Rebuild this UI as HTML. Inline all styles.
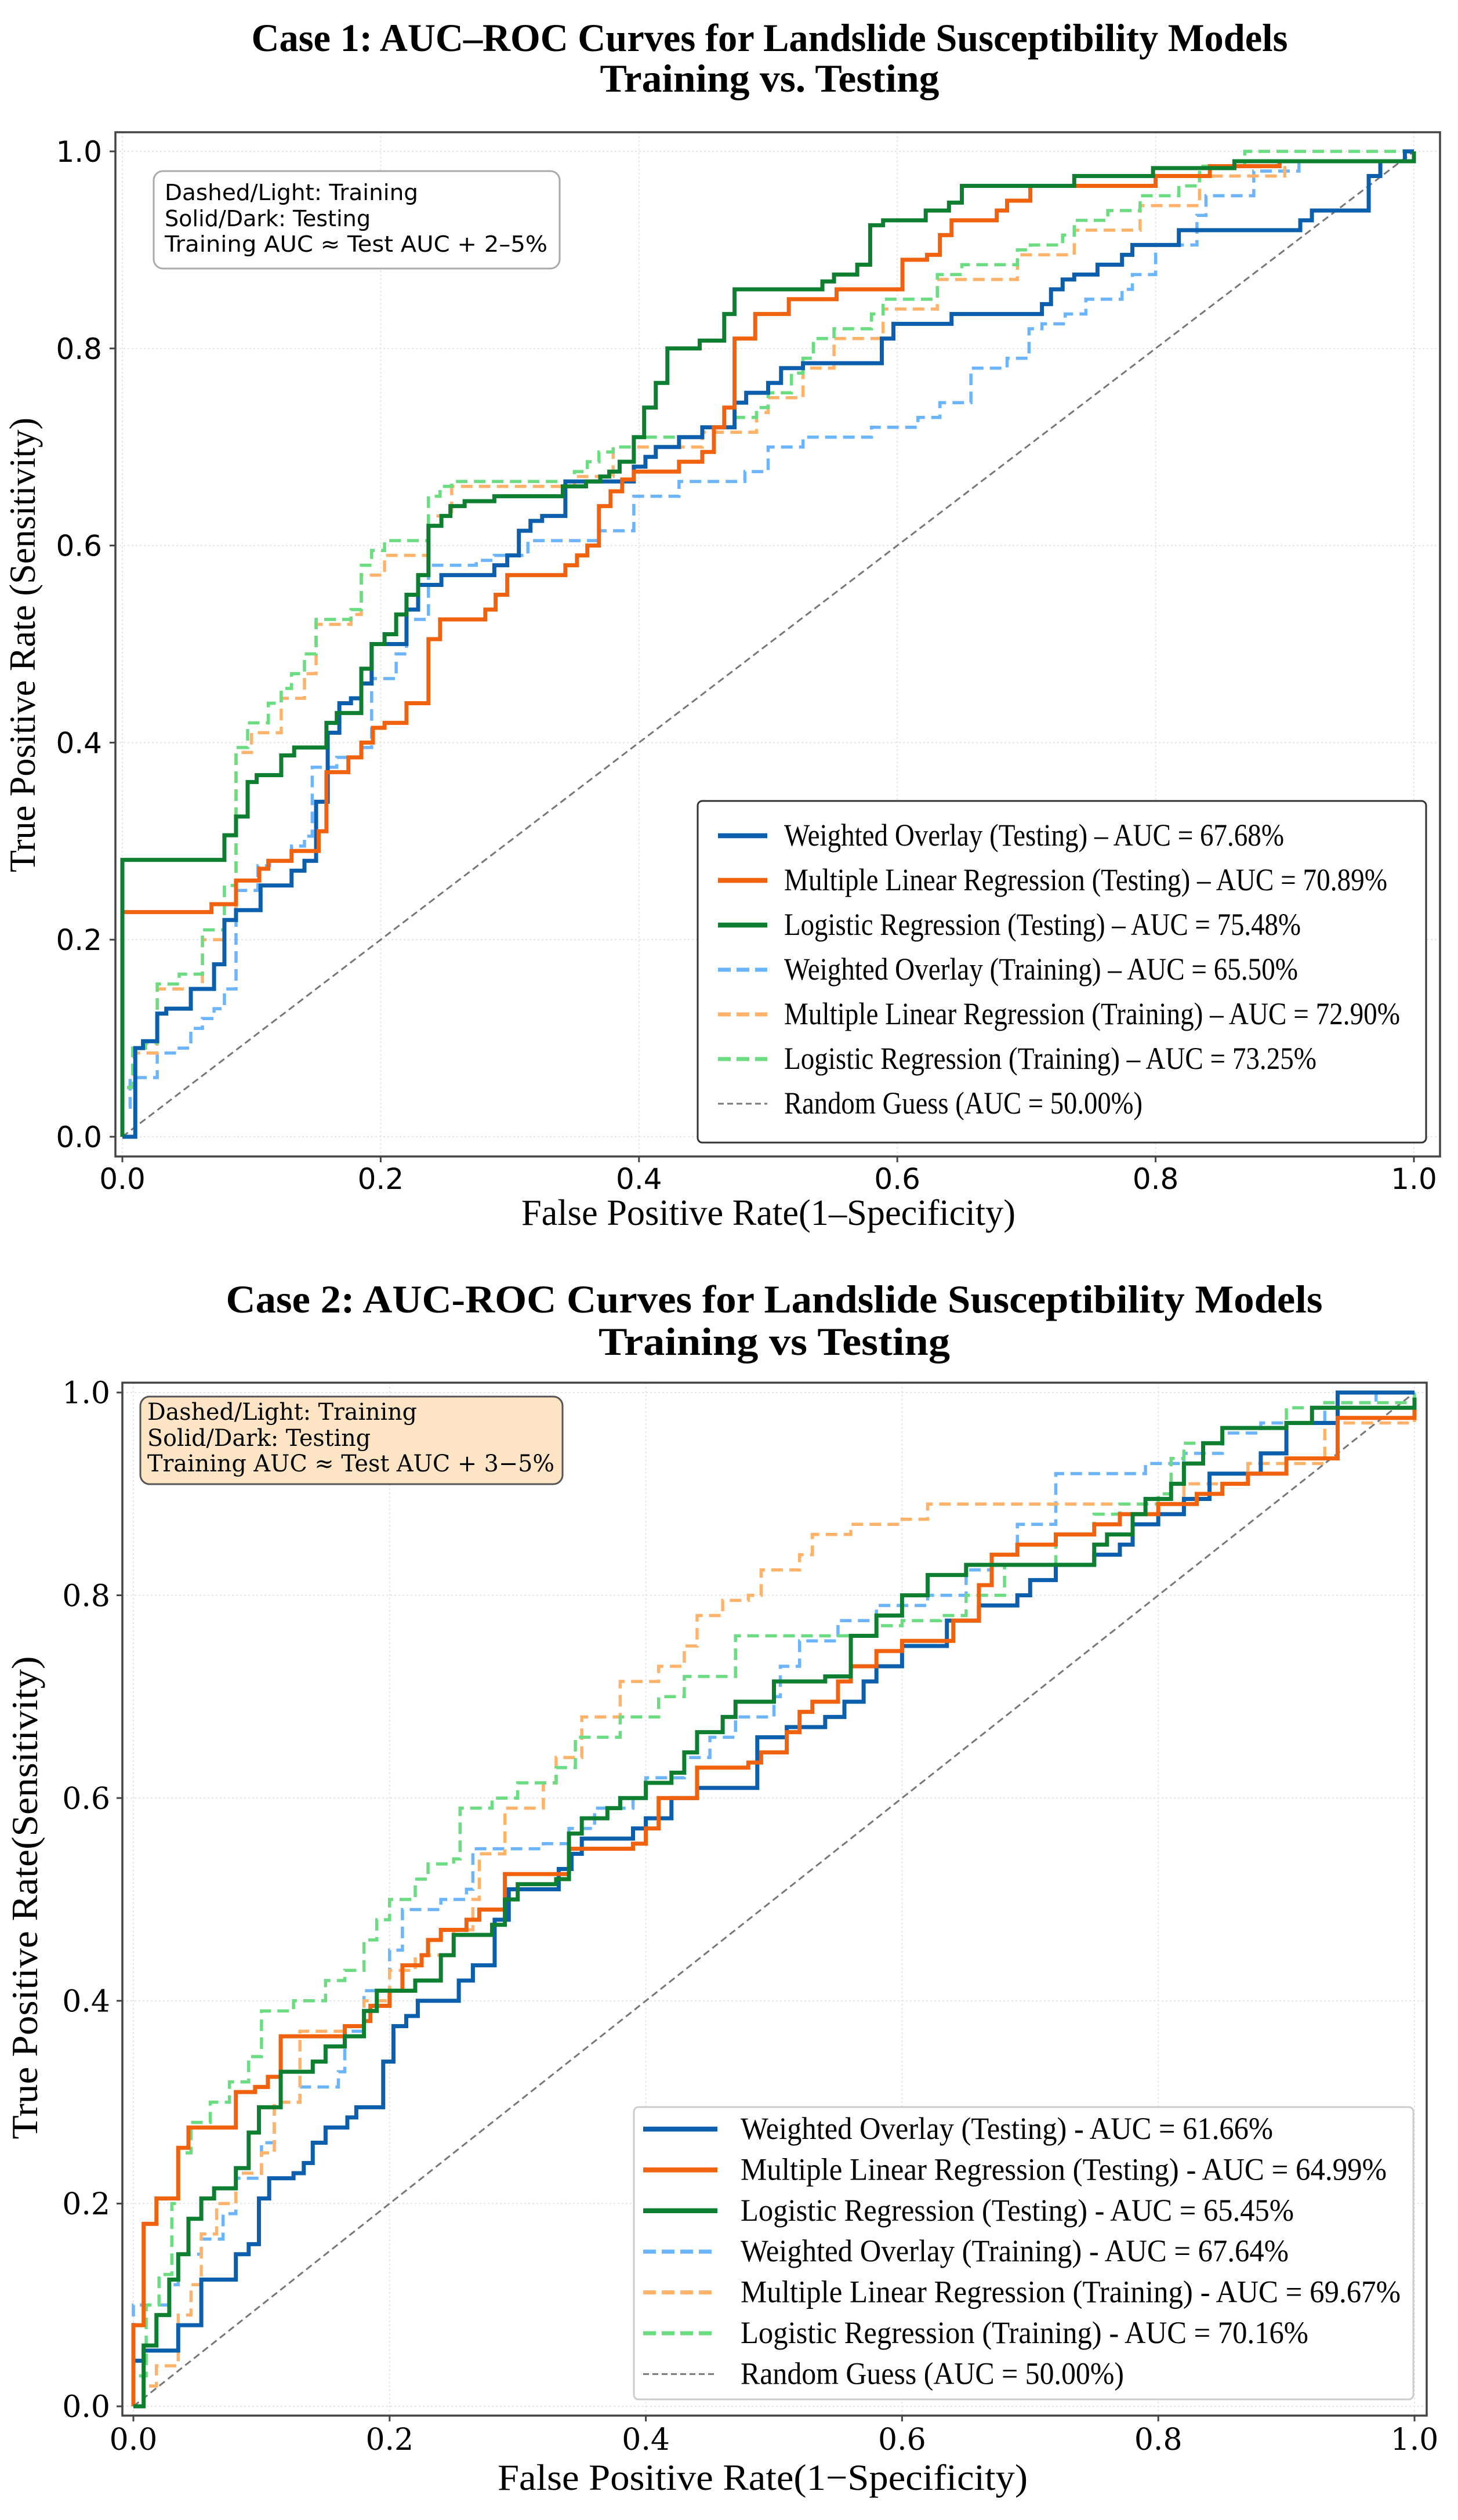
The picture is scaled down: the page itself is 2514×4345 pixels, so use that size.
<!DOCTYPE html>
<html><head><meta charset="utf-8">
<style>
html,body{margin:0;padding:0;background:#fff;}
svg{display:block;}
</style></head>
<body>
<svg id="root" width="2514" height="4345" viewBox="0 0 2514 4345" xmlns="http://www.w3.org/2000/svg">
<rect x="0" y="0" width="2514" height="4345" fill="#fff"/>
<g id="c1"></g>
<g id="c2"></g>
</svg>
<script>
// ---------- Case 1 data ----------
const c1WoTestX=[0,0.01,0.01,0.016,0.027,0.034,0.053,0.071,0.079,0.088,0.107,0.131,0.141,0.15,0.159,0.168,0.177,0.185,0.193,0.22,0.229,0.247,0.288,0.298,0.307,0.316,0.325,0.343,0.396,0.405,0.413,0.431,0.449,0.474,0.483,0.5,0.51,0.527,0.588,0.597,0.642,0.712,0.719,0.728,0.737,0.755,0.774,0.782,0.818,0.912,0.921,0.965,0.974,0.993,1];
const c1WoTestY=[0,0,0.09,0.097,0.125,0.13,0.15,0.175,0.22,0.23,0.255,0.27,0.28,0.34,0.41,0.44,0.445,0.46,0.5,0.535,0.56,0.57,0.58,0.59,0.615,0.625,0.63,0.665,0.68,0.69,0.7,0.71,0.72,0.745,0.755,0.765,0.78,0.785,0.81,0.825,0.835,0.845,0.86,0.87,0.875,0.885,0.895,0.905,0.92,0.93,0.94,0.975,0.99,1,1];
const c1MlrTestX=[0,0,0.069,0.088,0.106,0.113,0.131,0.152,0.158,0.175,0.185,0.194,0.203,0.22,0.237,0.246,0.281,0.289,0.298,0.343,0.352,0.36,0.369,0.378,0.387,0.396,0.431,0.449,0.458,0.466,0.474,0.49,0.516,0.553,0.604,0.623,0.633,0.642,0.677,0.685,0.703,0.8,0.842,0.896,1];
const c1MlrTestY=[0,0.228,0.236,0.26,0.272,0.28,0.29,0.31,0.37,0.385,0.4,0.415,0.42,0.44,0.505,0.525,0.535,0.55,0.57,0.58,0.59,0.6,0.64,0.655,0.667,0.675,0.685,0.695,0.72,0.74,0.81,0.835,0.85,0.86,0.89,0.895,0.915,0.93,0.94,0.95,0.965,0.975,0.985,0.99,1];
const c1LrTestX=[0,0,0.079,0.088,0.097,0.104,0.123,0.133,0.158,0.166,0.185,0.193,0.203,0.212,0.22,0.229,0.237,0.247,0.254,0.265,0.288,0.341,0.359,0.37,0.377,0.385,0.396,0.404,0.413,0.422,0.447,0.466,0.474,0.542,0.551,0.569,0.579,0.589,0.622,0.64,0.65,0.737,0.798,0.861,1];
const c1LrTestY=[0,0.281,0.306,0.325,0.36,0.367,0.387,0.395,0.42,0.43,0.475,0.5,0.51,0.53,0.55,0.57,0.62,0.63,0.64,0.645,0.65,0.66,0.665,0.67,0.675,0.685,0.71,0.74,0.765,0.8,0.808,0.835,0.86,0.868,0.875,0.885,0.925,0.93,0.94,0.948,0.965,0.975,0.983,0.99,1];
const c1WoTrainX=[0,0,0.006,0.027,0.044,0.053,0.062,0.071,0.079,0.088,0.105,0.114,0.131,0.141,0.147,0.166,0.185,0.193,0.212,0.22,0.237,0.274,0.288,0.314,0.369,0.396,0.431,0.482,0.5,0.527,0.58,0.616,0.633,0.657,0.685,0.702,0.712,0.73,0.746,0.774,0.782,0.8,0.832,0.839,0.876,0.911,1];
const c1WoTrainY=[0,0.03,0.06,0.085,0.09,0.11,0.12,0.13,0.15,0.25,0.275,0.28,0.295,0.305,0.375,0.385,0.395,0.465,0.49,0.525,0.58,0.585,0.59,0.605,0.615,0.65,0.665,0.675,0.7,0.71,0.72,0.73,0.745,0.78,0.79,0.82,0.825,0.835,0.85,0.86,0.875,0.905,0.935,0.955,0.98,0.99,1];
const c1MlrTrainX=[0,0,0.009,0.027,0.027,0.062,0.079,0.088,0.1,0.123,0.141,0.15,0.177,0.185,0.203,0.237,0.255,0.35,0.38,0.449,0.491,0.5,0.527,0.551,0.589,0.631,0.693,0.737,0.788,0.834,0.9,1];
const c1MlrTrainY=[0,0.05,0.085,0.09,0.15,0.2,0.22,0.39,0.41,0.445,0.47,0.52,0.53,0.57,0.59,0.63,0.66,0.67,0.7,0.715,0.735,0.75,0.78,0.81,0.84,0.87,0.895,0.92,0.945,0.975,0.99,1];
const c1LrTrainX=[0,0,0.008,0.018,0.027,0.044,0.062,0.079,0.088,0.097,0.113,0.123,0.131,0.141,0.15,0.177,0.185,0.193,0.203,0.237,0.246,0.255,0.35,0.36,0.369,0.38,0.396,0.449,0.474,0.491,0.5,0.518,0.527,0.535,0.551,0.58,0.589,0.631,0.65,0.693,0.703,0.728,0.737,0.763,0.788,0.818,0.834,0.869,1];
const c1LrTrainY=[0,0.05,0.09,0.095,0.155,0.165,0.21,0.255,0.395,0.42,0.44,0.455,0.47,0.49,0.525,0.535,0.58,0.595,0.605,0.65,0.66,0.665,0.675,0.685,0.695,0.7,0.71,0.72,0.73,0.74,0.755,0.775,0.79,0.81,0.82,0.835,0.85,0.875,0.885,0.9,0.905,0.915,0.93,0.94,0.955,0.965,0.985,1,1];
// ---------- Case 2 data ----------
const c2WoTestX=[0,0,0.008,0.035,0.035,0.053,0.053,0.08,0.08,0.09,0.098,0.098,0.106,0.125,0.133,0.14,0.15,0.167,0.174,0.195,0.195,0.203,0.213,0.222,0.254,0.254,0.265,0.282,0.282,0.293,0.332,0.332,0.342,0.35,0.39,0.4,0.42,0.42,0.44,0.487,0.487,0.51,0.54,0.555,0.57,0.58,0.6,0.635,0.635,0.66,0.69,0.7,0.72,0.75,0.77,0.78,0.8,0.82,0.84,0.88,0.9,0.94,0.94,1];
const c2WoTestY=[0,0.045,0.055,0.055,0.08,0.08,0.125,0.125,0.15,0.16,0.16,0.205,0.225,0.23,0.24,0.26,0.275,0.285,0.295,0.295,0.34,0.375,0.385,0.4,0.4,0.42,0.435,0.435,0.48,0.51,0.51,0.53,0.545,0.56,0.57,0.58,0.58,0.6,0.61,0.61,0.66,0.67,0.68,0.695,0.715,0.73,0.75,0.76,0.775,0.79,0.8,0.815,0.83,0.84,0.85,0.87,0.88,0.895,0.92,0.94,0.97,0.99,1,1];
const c2MlrTestX=[0,0,0.008,0.018,0.018,0.035,0.035,0.043,0.08,0.08,0.095,0.105,0.115,0.115,0.165,0.165,0.18,0.185,0.2,0.21,0.225,0.23,0.24,0.26,0.27,0.29,0.29,0.33,0.34,0.39,0.4,0.41,0.44,0.44,0.48,0.49,0.51,0.51,0.52,0.53,0.55,0.56,0.58,0.6,0.64,0.66,0.67,0.69,0.72,0.75,0.77,0.8,0.83,0.85,0.87,0.9,0.94,1];
const c2MlrTestY=[0,0.08,0.18,0.18,0.205,0.205,0.255,0.275,0.275,0.31,0.315,0.325,0.33,0.365,0.365,0.375,0.38,0.395,0.41,0.435,0.445,0.46,0.47,0.48,0.49,0.49,0.525,0.525,0.55,0.555,0.57,0.6,0.6,0.63,0.635,0.645,0.645,0.665,0.685,0.695,0.715,0.73,0.745,0.755,0.775,0.81,0.84,0.85,0.86,0.87,0.88,0.89,0.9,0.91,0.92,0.935,0.975,0.985];
const c2LrTestX=[0,0.008,0.018,0.028,0.035,0.043,0.053,0.063,0.08,0.09,0.098,0.115,0.14,0.15,0.165,0.18,0.19,0.22,0.24,0.25,0.28,0.29,0.3,0.33,0.34,0.35,0.37,0.38,0.4,0.42,0.43,0.44,0.46,0.47,0.5,0.54,0.56,0.58,0.6,0.62,0.65,0.74,0.75,0.76,0.78,0.79,0.81,0.82,0.835,0.85,0.9,0.92,1];
const c2LrTestY=[0,0.06,0.09,0.125,0.15,0.185,0.205,0.215,0.235,0.27,0.295,0.33,0.34,0.355,0.365,0.39,0.41,0.42,0.445,0.465,0.475,0.5,0.515,0.52,0.565,0.58,0.59,0.6,0.615,0.625,0.645,0.665,0.68,0.695,0.715,0.72,0.76,0.78,0.8,0.82,0.83,0.83,0.85,0.86,0.88,0.895,0.91,0.93,0.95,0.965,0.97,0.985,0.995];
const c2WoTrainX=[0,0,0.018,0.028,0.035,0.053,0.07,0.08,0.1,0.11,0.13,0.16,0.165,0.18,0.2,0.21,0.24,0.26,0.265,0.32,0.34,0.36,0.39,0.4,0.43,0.45,0.47,0.5,0.505,0.52,0.55,0.58,0.62,0.65,0.67,0.69,0.72,0.72,0.76,0.79,0.82,0.85,0.88,0.93,0.97,1];
const c2WoTrainY=[0,0.1,0.1,0.12,0.15,0.165,0.19,0.225,0.26,0.3,0.315,0.33,0.37,0.41,0.45,0.49,0.5,0.51,0.55,0.555,0.57,0.59,0.6,0.62,0.64,0.66,0.68,0.7,0.73,0.755,0.775,0.79,0.8,0.825,0.84,0.87,0.89,0.92,0.92,0.93,0.94,0.96,0.97,0.99,1,1];
const c2MlrTrainX=[0,0.008,0.018,0.035,0.035,0.045,0.053,0.065,0.08,0.1,0.11,0.13,0.165,0.18,0.2,0.22,0.25,0.265,0.27,0.29,0.29,0.32,0.33,0.35,0.38,0.38,0.41,0.43,0.44,0.46,0.48,0.49,0.52,0.53,0.56,0.6,0.62,0.8,0.82,0.87,0.93,1];
const c2MlrTrainY=[0,0.02,0.04,0.055,0.09,0.12,0.17,0.2,0.23,0.25,0.3,0.37,0.375,0.4,0.43,0.445,0.47,0.5,0.545,0.555,0.59,0.615,0.64,0.68,0.69,0.715,0.73,0.75,0.78,0.795,0.8,0.825,0.84,0.86,0.87,0.875,0.89,0.89,0.91,0.93,0.97,0.98];
const c2LrTrainX=[0,0,0.01,0.02,0.03,0.035,0.045,0.06,0.075,0.09,0.1,0.125,0.15,0.165,0.18,0.19,0.2,0.22,0.23,0.25,0.255,0.28,0.3,0.33,0.345,0.38,0.41,0.43,0.47,0.47,0.56,0.58,0.6,0.63,0.65,0.68,0.72,0.75,0.77,0.8,0.81,0.82,0.85,0.9,0.93,1];
const c2LrTrainY=[0,0.03,0.1,0.13,0.2,0.25,0.28,0.3,0.32,0.345,0.39,0.4,0.42,0.43,0.46,0.48,0.5,0.52,0.535,0.54,0.59,0.6,0.615,0.63,0.66,0.68,0.7,0.72,0.73,0.76,0.76,0.77,0.775,0.78,0.8,0.83,0.86,0.88,0.89,0.9,0.935,0.95,0.965,0.985,0.99,1];
const tickVals=[0,0.2,0.4,0.6,0.8,1.0];
const tickLabels=["0.0","0.2","0.4","0.6","0.8","1.0"];
const legend1Labels=["Weighted Overlay (Testing) – AUC = 67.68%","Multiple Linear Regression (Testing) – AUC = 70.89%","Logistic Regression (Testing) – AUC = 75.48%","Weighted Overlay (Training) – AUC = 65.50%","Multiple Linear Regression (Training) – AUC = 72.90%","Logistic Regression (Training) – AUC = 73.25%","Random Guess (AUC = 50.00%)"];
const legend2Labels=["Weighted Overlay (Testing) - AUC = 61.66%","Multiple Linear Regression (Testing) - AUC = 64.99%","Logistic Regression (Testing) - AUC = 65.45%","Weighted Overlay (Training) - AUC = 67.64%","Multiple Linear Regression (Training) - AUC = 69.67%","Logistic Regression (Training) - AUC = 70.16%","Random Guess (AUC = 50.00%)"];

const NS="http://www.w3.org/2000/svg";
function mk(tag,attrs,parent){const e=document.createElementNS(NS,tag);for(const k in attrs)e.setAttribute(k,attrs[k]);parent.appendChild(e);return e;}
function txt(parent,s,attrs){const t=mk('text',attrs,parent);t.textContent=s;return t;}

const styles=[
 {c:'#0b5fad',w:7,d:null,n:'weighted-overlay-testing'},
 {c:'#f0620e',w:7,d:null,n:'mlr-testing'},
 {c:'#0e7f30',w:7,d:null,n:'logistic-testing'},
 {c:'#6cb4fb',w:5.5,d:'20,11',n:'weighted-overlay-training'},
 {c:'#ffb36a',w:5.5,d:'20,11',n:'mlr-training'},
 {c:'#6bdc82',w:5.5,d:'20,11',n:'logistic-training'}
];

function drawChart(g,cfg){
  const sx=v=>cfg.x0+cfg.xw*v, sy=v=>cfg.y0-cfg.yh*v;
  const t1=txt(g,cfg.title1,{x:cfg.tcx,y:cfg.ty1,'text-anchor':'middle','font-family':'"Liberation Serif",serif','font-weight':'bold','font-size':68,textLength:cfg.tw1,lengthAdjust:'spacingAndGlyphs',fill:'#000'});
  
  
  const t2=txt(g,cfg.title2,{x:cfg.tcx,y:cfg.ty2,'text-anchor':'middle','font-family':'"Liberation Serif",serif','font-weight':'bold','font-size':68,textLength:cfg.tw2,lengthAdjust:'spacingAndGlyphs',fill:'#000'});
  
  
  const grid=mk('g',{},g);
  
  
  tickVals.forEach(v=>{
    mk('line',{x1:sx(v),x2:sx(v),y1:cfg.top,y2:cfg.bottom,stroke:'#e4e4e4','stroke-width':2,'stroke-dasharray':'3,4'},grid);
    mk('line',{x1:cfg.left,x2:cfg.right,y1:sy(v),y2:sy(v),stroke:'#e4e4e4','stroke-width':2,'stroke-dasharray':'3,4'},grid);
  });
  const diag=mk('line',{x1:sx(0),y1:sy(0),x2:sx(1),y2:sy(1),stroke:'#777','stroke-width':3,'stroke-dasharray':'12,7'},g);
  
  
  const order=[3,4,5,0,1,2];
  order.forEach(i=>{
    const xs=cfg.series[i][0], ys=cfg.series[i][1];
    let d='M'+sx(xs[0])+','+sy(ys[0]);
    for(let k=1;k<xs.length;k++){d+=' L'+sx(xs[k])+','+sy(ys[k-1])+' L'+sx(xs[k])+','+sy(ys[k]);}
    const p=mk('path',{d:d,fill:'none',stroke:styles[i].c,'stroke-width':styles[i].w,'stroke-linejoin':'miter'},g);
    if(styles[i].d)p.setAttribute('stroke-dasharray',styles[i].d);
    
    
  });
  const fr=mk('rect',{x:cfg.left,y:cfg.top,width:cfg.right-cfg.left,height:cfg.bottom-cfg.top,fill:'none',stroke:'#444','stroke-width':3.5},g);
  
  
  tickVals.forEach((v,i)=>{
    mk('line',{x1:sx(v),x2:sx(v),y1:cfg.bottom,y2:cfg.bottom+10,stroke:'#444','stroke-width':3},g);
    mk('line',{x1:cfg.left-10,x2:cfg.left,y1:sy(v),y2:sy(v),stroke:'#444','stroke-width':3},g);
    const xt=txt(g,tickLabels[i],{x:sx(v),y:cfg.xtickY,'text-anchor':'middle','font-family':cfg.tickFont,'font-size':cfg.tickSize,fill:'#000'});
    
    
    const yt=txt(g,tickLabels[i],{x:cfg.ytickX,y:sy(v)+cfg.tickSize*0.36,'text-anchor':'end','font-family':cfg.tickFont,'font-size':cfg.tickSize,fill:'#000'});
    
    
  });
  const xl=txt(g,cfg.xlabel,{x:cfg.xlx,y:cfg.xly,'text-anchor':'middle','font-family':'"Liberation Serif",serif','font-size':64,textLength:cfg.xlw,lengthAdjust:'spacingAndGlyphs',fill:'#000'});
  
  
  const yl=txt(g,cfg.ylabel,{x:0,y:0,'text-anchor':'middle','font-family':'"Liberation Serif",serif','font-size':64,textLength:cfg.ylw,lengthAdjust:'spacingAndGlyphs',fill:'#000',transform:'translate('+cfg.ylx+','+cfg.yly+') rotate(-90)'});
  
  
  const ab=mk('g',{},g);
  
  
  mk('rect',{x:cfg.ab.x,y:cfg.ab.y,width:cfg.ab.w,height:cfg.ab.h,rx:16,fill:cfg.ab.fill,stroke:cfg.ab.stroke,'stroke-width':3},ab);
  cfg.ab.lines.forEach((s,i)=>{
    txt(ab,s,{x:cfg.ab.tx,y:cfg.ab.ty[i],'font-family':cfg.ab.font,'font-size':cfg.ab.fs,fill:'#000',textLength:cfg.ab.tl[i],lengthAdjust:'spacingAndGlyphs'});
  });
  const lg=mk('g',{},g);
  
  
  mk('rect',{x:cfg.lg.x,y:cfg.lg.y,width:cfg.lg.w,height:cfg.lg.h,rx:8,fill:'#fff',stroke:cfg.lg.stroke,'stroke-width':3},lg);
  cfg.lgLabels.forEach((s,i)=>{
    const yy=cfg.lg.e0+cfg.lg.step*i;
    const en=mk('g',{},lg);
    
    
    if(i<6){
      const ln=mk('line',{x1:cfg.lg.l1,x2:cfg.lg.l2,y1:yy,y2:yy,stroke:styles[i].c,'stroke-width':styles[i].w+1.5},en);
      if(styles[i].d)ln.setAttribute('stroke-dasharray','22,10');
    } else {
      mk('line',{x1:cfg.lg.l1,x2:cfg.lg.l2,y1:yy,y2:yy,stroke:'#777','stroke-width':3,'stroke-dasharray':'10,6'},en);
    }
    txt(en,s,{x:cfg.lg.tx,y:yy+17,'font-family':'"Liberation Serif",serif','font-size':cfg.lg.fs,fill:'#000',textLength:cfg.lg.tl[i],lengthAdjust:'spacingAndGlyphs'});
  });
}

drawChart(document.getElementById('c1'),{
  x0:211,xw:2227,y0:1960,yh:1699,left:199,right:2483,top:228,bottom:1994,
  title1:'Case 1: AUC–ROC Curves for Landslide Susceptibility Models',title2:'Training vs. Testing',
  tcx:1327,ty1:88,ty2:158,tw1:1787,tw2:585,
  tickFont:'"DejaVu Sans","Liberation Sans",sans-serif',tickSize:50,xtickY:2050,ytickX:176,
  xlabel:'False Positive Rate(1–Specificity)',xlx:1325,xly:2112,xlw:852,
  ylabel:'True Positive Rate (Sensitivity)',ylx:60,yly:1112,ylw:784,
  ab:{x:265,y:295,w:700,h:168,fill:'#fff',stroke:'#aaa',lines:['Dashed/Light: Training','Solid/Dark: Testing','Training AUC ≈ Test AUC + 2–5%'],tx:284,ty:[345,390,434],font:'"DejaVu Sans","Liberation Sans",sans-serif',fs:38,tl:[437,355,660]},
  lg:{x:1203,y:1381,w:1256,h:589,stroke:'#333',e0:1441,step:77,l1:1238,l2:1323,tx:1352,fs:54,tl:[862,1040,891,886,1062,918,618]},
  lgLabels:legend1Labels,
  series:[[c1WoTestX,c1WoTestY],[c1MlrTestX,c1MlrTestY],[c1LrTestX,c1LrTestY],[c1WoTrainX,c1WoTrainY],[c1MlrTrainX,c1MlrTrainY],[c1LrTrainX,c1LrTrainY]]
});
drawChart(document.getElementById('c2'),{
  x0:230,xw:2209,y0:4149,yh:1748,left:211,right:2460,top:2384,bottom:4165,
  title1:'Case 2: AUC-ROC Curves for Landslide Susceptibility Models',title2:'Training vs Testing',
  tcx:1335,ty1:2263,ty2:2336,tw1:1891,tw2:606,
  tickFont:'"DejaVu Serif","Liberation Serif",serif',tickSize:52,xtickY:4224,ytickX:190,
  xlabel:'False Positive Rate(1−Specificity)',xlx:1315,xly:4293,xlw:914,
  ylabel:'True Positive Rate(Sensitivity)',ylx:64,yly:3272,ylw:833,
  ab:{x:242,y:2408,w:728,h:151,fill:'#fde4c4',stroke:'#555',lines:['Dashed/Light: Training','Solid/Dark: Testing','Training AUC ≈ Test AUC + 3−5%'],tx:254,ty:[2448,2493,2537],font:'"DejaVu Serif","Liberation Serif",serif',fs:40,tl:[465,385,702]},
  lg:{x:1093,y:3633,w:1344,h:504,stroke:'#ccc',e0:3671,step:70.4,l1:1109,l2:1237,tx:1277,fs:54,tl:[918,1114,954,945,1138,979,661]},
  lgLabels:legend2Labels,
  series:[[c2WoTestX,c2WoTestY],[c2MlrTestX,c2MlrTestY],[c2LrTestX,c2LrTestY],[c2WoTrainX,c2WoTrainY],[c2MlrTrainX,c2MlrTrainY],[c2LrTrainX,c2LrTrainY]]
});
</script>
</body></html>
